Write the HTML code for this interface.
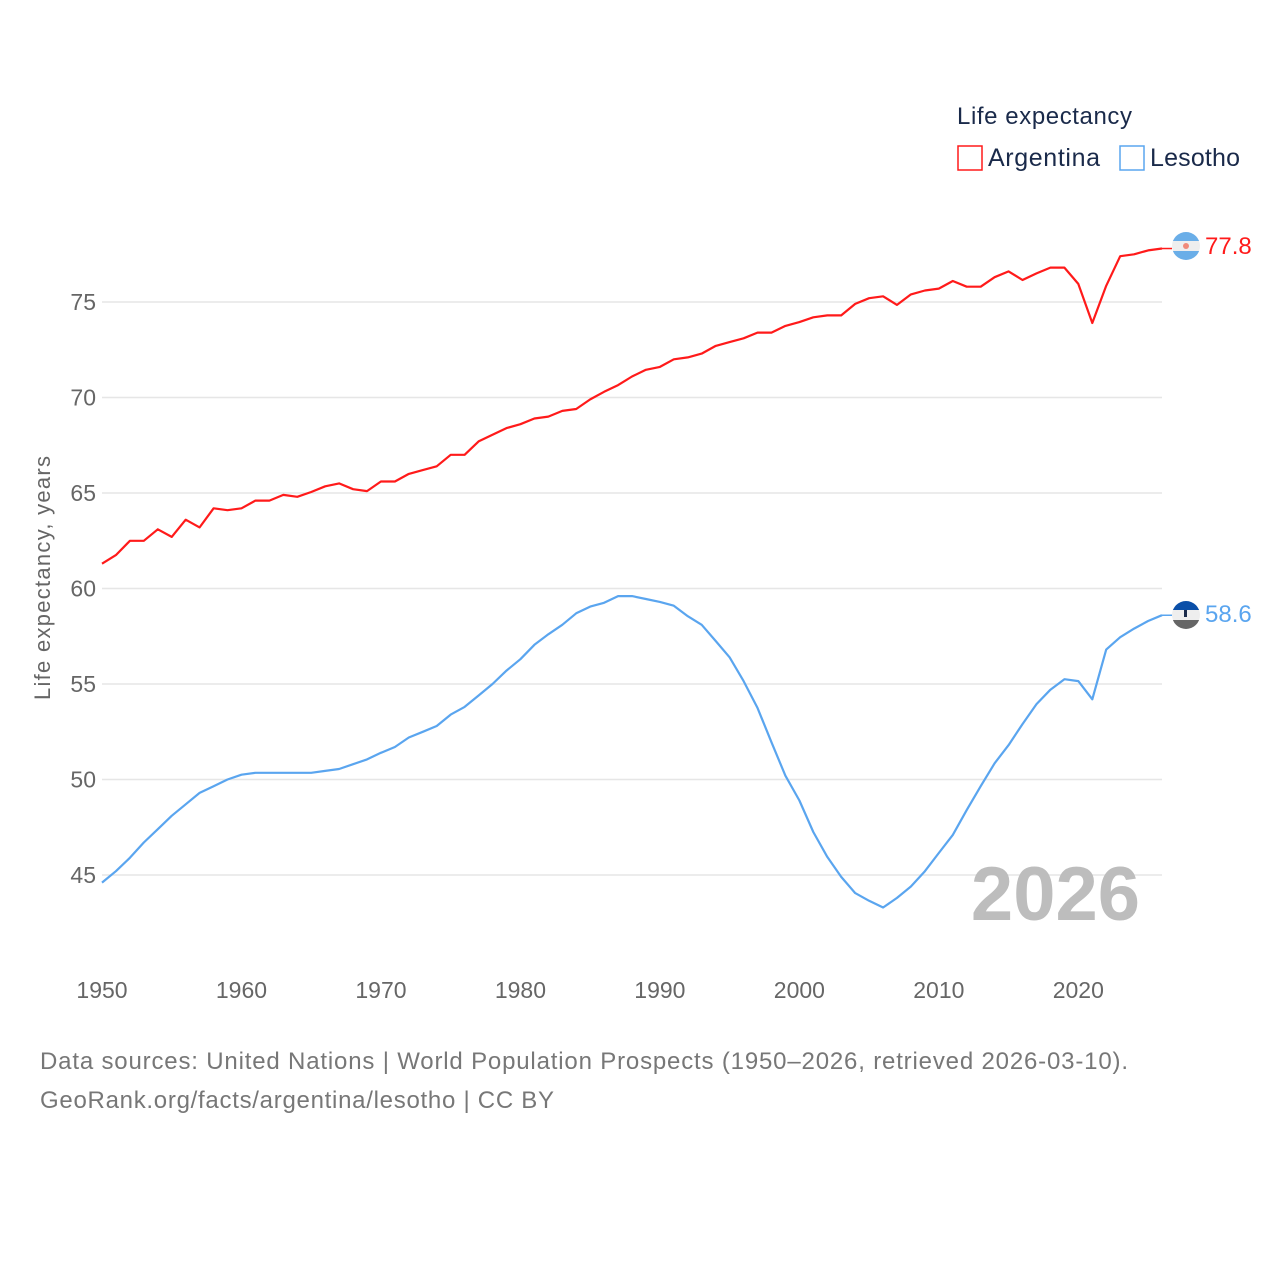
<!DOCTYPE html>
<html><head><meta charset="utf-8"><style>
body{margin:0;background:#fff;}
svg{display:block;font-family:"Liberation Sans",sans-serif;}
</style></head><body>
<svg id="chart" width="1280" height="1280" viewBox="0 0 1280 1280">
<rect width="1280" height="1280" fill="#fff"/>
<g id="grid"></g>
<g id="yticks"></g>
<g id="xticks"></g>
<text x="50" y="578" transform="rotate(-90 50 578)" text-anchor="middle" font-size="22" fill="#666" textLength="244">Life expectancy, years</text>
<text x="1140" y="920" text-anchor="end" font-size="76" font-weight="bold" fill="#bdbdbd">2026</text>
<g id="series"></g>
<g>
<text x="957" y="124" font-size="24" fill="#1a2a4a" textLength="175">Life expectancy</text>
<g><rect x="958" y="146" width="24" height="24" fill="none" stroke="#ff1a1a" stroke-width="1.5"/><text x="988" y="166" font-size="25" fill="#1a2a4a" textLength="112">Argentina</text></g>
<g><rect x="1120" y="146" width="24" height="24" fill="none" stroke="#5aa5ef" stroke-width="1.5"/><text x="1150" y="166" font-size="25" fill="#1a2a4a" textLength="90">Lesotho</text></g>
</g>
<g>
<clipPath id="c1"><circle cx="1186" cy="246" r="14"/></clipPath>
<g clip-path="url(#c1)"><rect x="1172" y="232" width="28" height="28" fill="#eee"/><rect x="1172" y="232" width="28" height="9" fill="#6aaee8"/><rect x="1172" y="251" width="28" height="9" fill="#6aaee8"/><circle cx="1186" cy="246" r="3" fill="#f08a7a"/></g>
</g>
<g>
<clipPath id="c2"><circle cx="1186" cy="615" r="14"/></clipPath>
<g clip-path="url(#c2)"><rect x="1172" y="601" width="28" height="28" fill="#eee"/><rect x="1172" y="601" width="28" height="9" fill="#0a4fa8"/><rect x="1172" y="620" width="28" height="9" fill="#666"/><rect x="1184" y="610" width="3" height="7" fill="#1a2a4a"/></g>
</g>
<text x="1205" y="254" font-size="24" fill="#ff1a1a">77.8</text>
<text x="1205" y="622" font-size="24" fill="#5aa5ef">58.6</text>
<text x="40" y="1069" font-size="24" fill="#777" textLength="1088">Data sources: United Nations | World Population Prospects (1950–2026, retrieved 2026-03-10).</text>
<text x="40" y="1108" font-size="24" fill="#777" textLength="514">GeoRank.org/facts/argentina/lesotho | CC BY</text>
</svg>
<script>
const years = [];
for (let y = 1950; y <= 2026; y++) years.push(y);
const argentina = [61.3,61.75,62.5,62.5,63.1,62.7,63.6,63.2,64.2,64.1,64.2,64.6,64.6,64.9,64.8,65.05,65.35,65.5,65.2,65.1,65.6,65.6,66.0,66.2,66.4,67.0,67.0,67.7,68.05,68.4,68.6,68.9,69.0,69.3,69.4,69.9,70.3,70.65,71.1,71.45,71.6,72.0,72.1,72.3,72.7,72.9,73.1,73.4,73.4,73.75,73.95,74.2,74.3,74.3,74.9,75.2,75.3,74.85,75.4,75.6,75.7,76.1,75.8,75.8,76.3,76.6,76.15,76.5,76.8,76.8,75.95,73.9,75.85,77.4,77.5,77.7,77.8];
const lesotho = [44.6,45.2,45.9,46.7,47.4,48.1,48.7,49.3,49.65,50.0,50.25,50.35,50.35,50.35,50.35,50.35,50.45,50.55,50.8,51.05,51.4,51.7,52.2,52.5,52.8,53.4,53.8,54.4,55.0,55.7,56.3,57.05,57.6,58.1,58.7,59.05,59.25,59.6,59.6,59.45,59.3,59.1,58.55,58.1,57.25,56.4,55.15,53.75,51.95,50.2,48.9,47.25,45.95,44.9,44.05,43.65,43.3,43.8,44.4,45.2,46.15,47.1,48.4,49.65,50.85,51.8,52.9,53.95,54.7,55.25,55.15,54.2,56.8,57.45,57.9,58.3,58.6];
const yTicks = [45,50,55,60,65,70,75];
const xTicks = [1950,1960,1970,1980,1990,2000,2010,2020];
const NS = 'http://www.w3.org/2000/svg';
const xs = y => 102 + (y - 1950) * (1162 - 102) / 76;
const ys = v => 302 + (75 - v) * (875 - 302) / 30;
function mk(tag, attrs, parent) { const e = document.createElementNS(NS, tag); for (const k in attrs) e.setAttribute(k, attrs[k]); parent.appendChild(e); return e; }
const grid = document.getElementById('grid'), yt = document.getElementById('yticks'), xt = document.getElementById('xticks'), ser = document.getElementById('series');
yTicks.forEach(t => {
  const l = mk('line', {x1: 102, x2: 1162, y1: ys(t), y2: ys(t), stroke: '#e6e6e6', 'stroke-width': 1.5}, grid);
  
  
  const tx = mk('text', {x: 96, y: ys(t) + 8, 'text-anchor': 'end', 'font-size': 23, fill: '#666'}, yt);
  tx.textContent = t;
  
  
});
xTicks.forEach(t => {
  const tx = mk('text', {x: xs(t), y: 998, 'text-anchor': 'middle', 'font-size': 23, fill: '#666'}, xt);
  tx.textContent = t;
  
  
});
function line(vals, color, name) {
  const d = vals.map((v, i) => (i ? 'L' : 'M') + xs(years[i]).toFixed(1) + ' ' + ys(v).toFixed(1)).join(' ');
  const p = mk('path', {d: d, fill: 'none', stroke: color, 'stroke-width': 2.2, 'stroke-linejoin': 'round'}, ser);
  
  
  const last = vals[vals.length - 1];
  const c = mk('line', {x1: xs(2026), x2: 1172, y1: ys(last), y2: ys(last), stroke: color, 'stroke-width': 1.5}, ser);
  
  
}
line(argentina, '#ff1a1a', 'line-argentina');
line(lesotho, '#5aa5ef', 'line-lesotho');
</script>
</body></html>
